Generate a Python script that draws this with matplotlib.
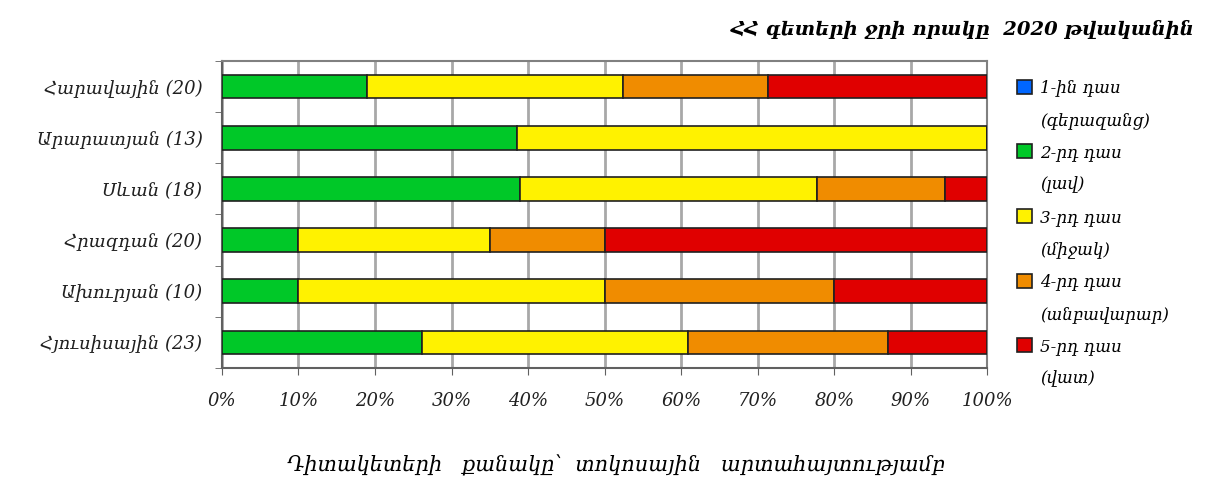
import numpy as np
import matplotlib
matplotlib.use('Agg')
import matplotlib.pyplot as plt
from matplotlib.patches import Patch

# regions (top to bottom) with number of monitoring points
regions = ['Հարավային (20)', 'Արարատյան (13)', 'Սևան (18)',
           'Հրազդան (20)', 'Ախուրյան (10)', 'Հյուսիսային (23)']

# percentage of monitoring points in each water quality class
class1 = [0, 0, 0, 0, 0, 0]
class2 = [19.0, 38.5, 38.9, 10.0, 10.0, 26.1]
class3 = [33.4, 61.5, 38.9, 25.0, 40.0, 34.8]
class4 = [19.0, 0, 16.6, 15.0, 30.0, 26.1]
class5 = [28.6, 0, 5.6, 50.0, 20.0, 13.0]

class_names = ['1-ին դաս', '2-րդ դաս', '3-րդ դաս', '4-րդ դաս', '5-րդ դաս']
class_notes = ['(գերազանց)', '(լավ)', '(միջակ)', '(անբավարար)', '(վատ)']
colors = ['#0066ff', '#00c828', '#fff200', '#f08c00', '#e00000']

title = 'ՀՀ գետերի ջրի որակը  2020 թվականին'
xlabel = 'Դիտակետերի   քանակը՝  տոկոսային   արտահայտությամբ'

fam = ['DejaVu Serif', 'DejaVu Sans']

fig = plt.figure(figsize=(12.19, 4.95), dpi=100)
ax = fig.add_axes([0.182, 0.2566, 0.628, 0.6202])

series = [class1, class2, class3, class4, class5]
y = np.arange(len(regions))
left = np.zeros(len(regions))
for vals, col in zip(series, colors):
    vals = np.array(vals, dtype=float)
    ax.barh(y, vals, left=left, height=0.46, color=col,
            edgecolor='#202020', linewidth=1.2, zorder=3)
    left += vals

ax.set_xlim(0, 100)
ax.set_ylim(len(regions) - 0.5, -0.5)
ax.set_xticks(np.arange(0, 101, 10))
ax.set_xticklabels([f'{v}%' for v in range(0, 101, 10)],
                   fontsize=13, style='italic', family=fam, color='#202020')
ax.set_yticks(y)
ax.set_yticklabels(regions, fontsize=13, style='italic', family=fam, color='#202020')
ax.set_yticks(np.arange(-0.5, len(regions), 1), minor=True)
ax.tick_params(axis='y', which='major', length=0, pad=14)
ax.tick_params(axis='y', which='minor', length=5, color='#606060')
ax.tick_params(axis='x', length=5, color='#606060', pad=12)
ax.grid(axis='x', color='#a8a8a8', linewidth=2, zorder=0)
for s in ['top', 'right']:
    ax.spines[s].set_color('#808080')
    ax.spines[s].set_linewidth(1.5)
for s in ['left', 'bottom']:
    ax.spines[s].set_color('#606060')
    ax.spines[s].set_linewidth(1.5)

# legend: name on one row, description on the next
handles, labels = [], []
for name, note, col in zip(class_names, class_notes, colors):
    handles.append(Patch(facecolor=col, edgecolor='#202020', linewidth=1.2))
    labels.append(name)
    handles.append(Patch(facecolor='none', edgecolor='none'))
    labels.append(note)
fig.legend(handles, labels, loc='upper left', bbox_to_anchor=(0.822, 0.87),
           frameon=False, handlelength=0.9, handleheight=0.9, handletextpad=0.5,
           labelspacing=0.92,
           prop={'family': fam, 'style': 'italic', 'size': 12})

fig.text(0.98, 0.94, title, ha='right', va='center', fontsize=14,
         fontweight='bold', style='italic', family=fam)
fig.text(0.505, 0.06, xlabel, ha='center', va='center', fontsize=15,
         style='italic', family=fam)

fig.savefig('out.png', dpi=100)
